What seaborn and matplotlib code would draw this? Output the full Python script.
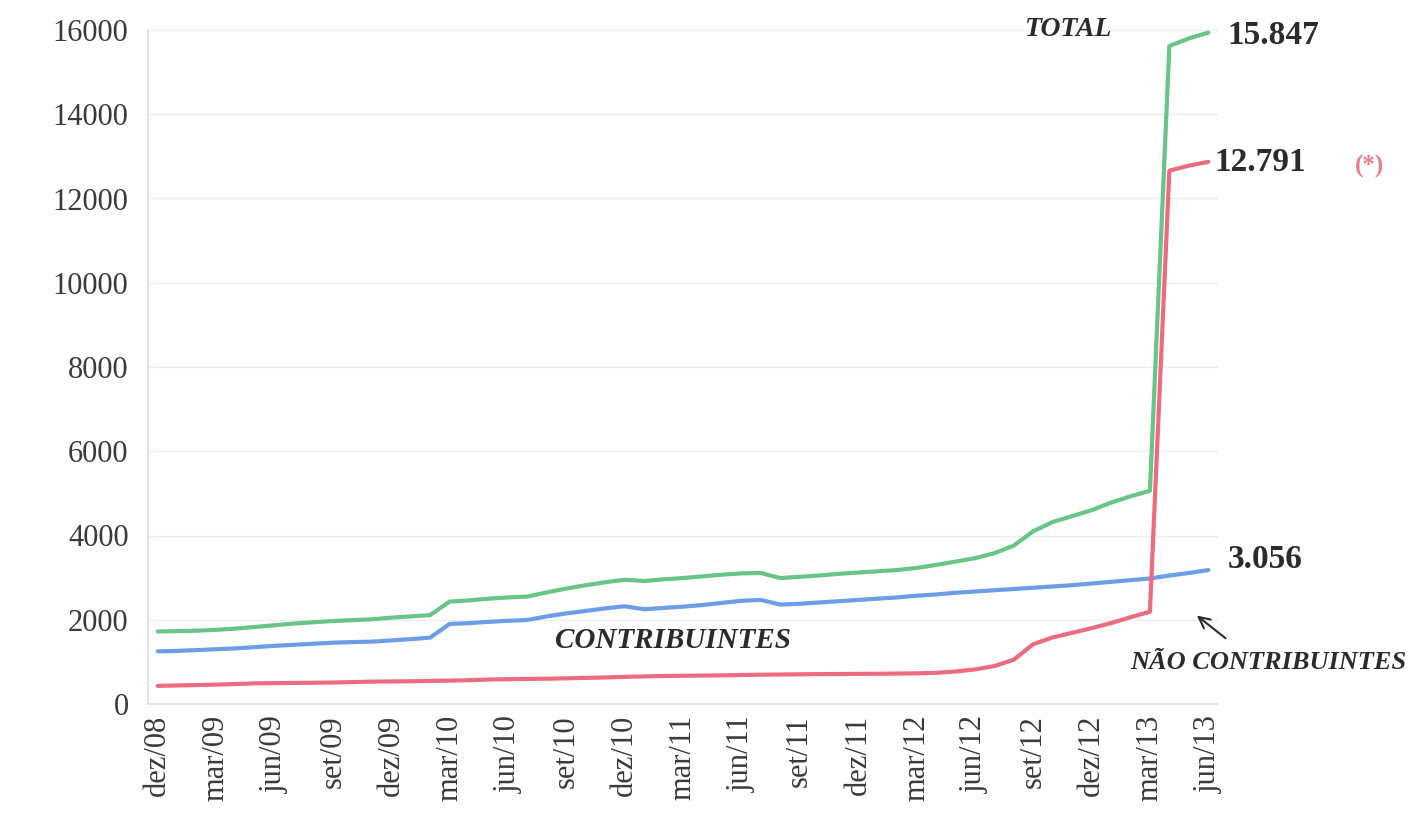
import numpy as np
import pandas as pd
import seaborn as sns
import matplotlib
matplotlib.use("Agg")
import matplotlib.pyplot as plt
from matplotlib.ticker import FixedLocator

# monthly values, dez/08 .. jun/13 (55 months)
total = [1720, 1730, 1740, 1760, 1790, 1830, 1870, 1910, 1940, 1970, 1990, 2010,
         2050, 2080, 2110, 2430, 2460, 2500, 2530, 2550, 2650, 2740, 2820, 2890,
         2950, 2920, 2960, 2990, 3030, 3070, 3100, 3110, 2990, 3020, 3050, 3090,
         3120, 3150, 3180, 3230, 3300, 3380, 3460, 3580, 3760, 4100, 4320, 4460,
         4600, 4780, 4930, 5060, 15620, 15800, 15937]
contribuintes = [1250, 1260, 1280, 1300, 1320, 1350, 1380, 1405, 1430, 1455, 1470, 1480,
                 1510, 1540, 1575, 1900, 1920, 1950, 1975, 1995, 2080, 2150, 2210, 2270,
                 2320, 2250, 2280, 2310, 2350, 2400, 2450, 2470, 2360, 2380, 2410, 2440,
                 2470, 2500, 2530, 2570, 2600, 2640, 2670, 2700, 2730, 2760, 2790, 2820,
                 2860, 2900, 2940, 2980, 3050, 3110, 3180]
nao_contribuintes = [430, 440, 450, 460, 475, 490, 495, 500, 505, 510, 520, 530,
                     535, 540, 548, 555, 565, 580, 590, 595, 600, 610, 620, 630,
                     645, 655, 665, 670, 675, 680, 688, 695, 700, 705, 710, 712,
                     715, 718, 722, 728, 740, 770, 820, 900, 1050, 1420, 1580, 1690,
                     1800, 1920, 2060, 2190, 12660, 12780, 12870]
tick_labels = ["dez/08", "mar/09", "jun/09", "set/09", "dez/09", "mar/10", "jun/10",
               "set/10", "dez/10", "mar/11", "jun/11", "set/11", "dez/11", "mar/12",
               "jun/12", "set/12", "dez/12", "mar/13", "jun/13"]

months = np.arange(len(total))
df = pd.DataFrame({
    "mes": np.tile(months, 3),
    "valor": total + contribuintes + nao_contribuintes,
    "serie": ["TOTAL"] * len(total) + ["CONTRIBUINTES"] * len(total)
             + ["NÃO CONTRIBUINTES"] * len(total),
})
palette = {"TOTAL": "#68c487", "CONTRIBUINTES": "#6c9de6", "NÃO CONTRIBUINTES": "#ec6b7e"}

sns.set_theme(style="white")
plt.rcParams["font.family"] = ["Liberation Serif", "DejaVu Serif"]

fig = plt.figure(figsize=(14.25, 8.21), dpi=100)
ax = fig.add_axes([148 / 1425, 1 - 704 / 821, 1070 / 1425, 674 / 821])

sns.lineplot(data=df, x="mes", y="valor", hue="serie", palette=palette,
             linewidth=3.0, legend=False, ax=ax)

ax.set_xlim(-0.5, len(total) - 0.5)
ax.set_ylim(0, 16000)
ax.set_yticks(np.arange(0, 16001, 2000))
ax.set_yticklabels([str(v) for v in range(0, 16001, 2000)], fontsize=22, color="#3a3a3a")
ax.set_xticks(months[::3])
ax.set_xticklabels(tick_labels, rotation=90, fontsize=22, color="#3a3a3a")
ax.xaxis.set_minor_locator(FixedLocator(np.arange(-0.5, len(total), 1)))
ax.tick_params(axis="x", which="major", length=0, pad=8)
ax.tick_params(axis="x", which="minor", length=7, color="#d5dde6", width=1)
ax.tick_params(axis="y", length=0, pad=14)
ax.set_xlabel("")
ax.set_ylabel("")

ax.grid(axis="y", color="#e9eef2", linewidth=1)
ax.set_axisbelow(True)
for side in ["top", "right"]:
    ax.spines[side].set_visible(False)
ax.spines["left"].set_color("#dbe3ec")
ax.spines["bottom"].set_color("#dde3ea")

# annotations
ax.text(46.85, 16000, "TOTAL", fontsize=20, fontweight="bold", fontstyle="italic",
        color="#2b2b2b", ha="center", va="center", clip_on=False)
ax.text(55.0, 15880, "15.847", fontsize=24, fontweight="bold", color="#2b2b2b",
        va="center", clip_on=False)
ax.text(54.3, 12843, "12.791", fontsize=24, fontweight="bold", color="#2b2b2b",
        va="center", clip_on=False)
ax.text(62.3, 12750, "(*)", fontsize=18, fontweight="bold", color="#ea7f8c",
        ha="center", va="center", clip_on=False)
ax.text(55.0, 3419, "3.056", fontsize=24, fontweight="bold", color="#2b2b2b",
        va="center", clip_on=False)
ax.text(20.4, 1519, "CONTRIBUINTES", fontsize=21, fontweight="bold", fontstyle="italic",
        color="#2b2b2b", va="center", clip_on=False)
ax.text(50.0, 997, "NÃO CONTRIBUINTES", fontsize=19, fontweight="bold", fontstyle="italic",
        color="#2b2b2b", va="center", clip_on=False)
ax.annotate("", xy=(53.3, 2140), xytext=(55.0, 1520),
            arrowprops=dict(arrowstyle="->", color="#2b2b2b", lw=1.5,
                            mutation_scale=20), annotation_clip=False)

fig.savefig("out.png", dpi=100)
